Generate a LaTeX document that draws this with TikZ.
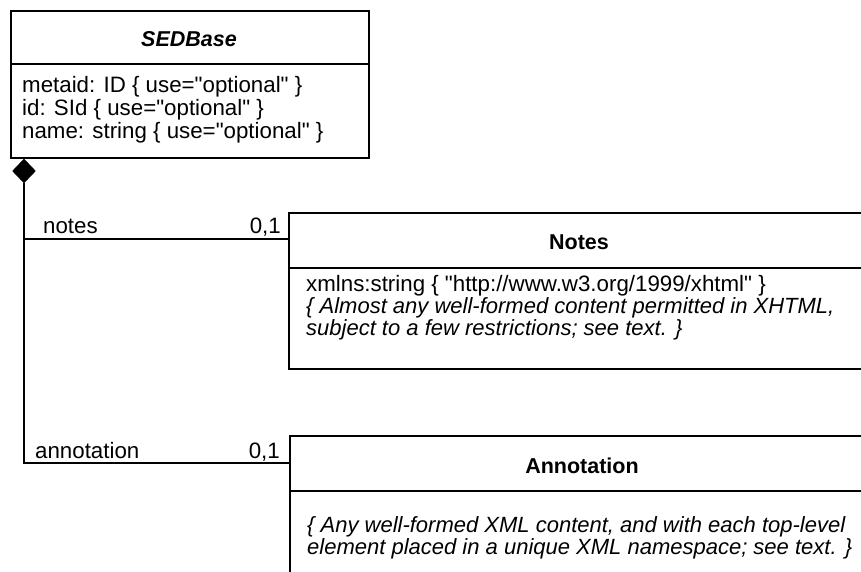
\documentclass[tikz,border=0pt]{standalone}
\usepackage{fontspec}
\setmainfont{Liberation Sans}[Ligatures=TeXOff]
\usetikzlibrary{shapes.geometric,calc}
\begin{document}
\begin{tikzpicture}[x=1pt,y=-1pt,
  umlbox/.style={draw,line width=1.6pt,anchor=north west,inner sep=0,minimum width=#1},
  txt/.style={anchor=base west,inner sep=0,font=\fontsize{22.3}{23.5}\selectfont},
  itxt/.style={anchor=base west,inner sep=0,font=\fontsize{22}{23.5}\selectfont\itshape},
  ttl/.style={anchor=base,inner sep=0,font=\fontsize{21.5}{23.5}\selectfont\bfseries},
  conn/.style={line width=1.6pt}]
\useasboundingbox[fill=white] (0,0) rectangle (861,572);
% SEDBase
\node[umlbox=358pt,minimum height=147pt] (sed) at (10,10) {};
\draw[conn] ($(sed.north west)+(0,54)$) -- ($(sed.north east)+(0,54)$);
\node[ttl,font=\fontsize{21.5}{23.5}\selectfont\bfseries\itshape] (sedt) at (189,47) {SEDBase};
\node[txt] (a1) at (22,93) {metaid: ID \{ use="optional" \}};
\node[txt] (a2) at (22,116) {id: SId \{ use="optional" \}};
\node[txt] (a3) at (22,139) {name: string \{ use="optional" \}};
% diamond
\node[diamond,fill=black,draw=black,inner sep=0,minimum width=23pt,minimum height=24pt] (dia) at (24,171) {};
% Notes
\node[umlbox=600pt,minimum height=156pt] (notes) at (288,212) {};
\draw[conn] ($(notes.north west)+(0,56)$) -- ($(notes.north east)+(0,56)$);
\node[ttl] (notest) at (579,249) {Notes};
\node[txt] (n1) at (306,291) {xmlns:string \{ "http://www.w3.org/1999/xhtml" \}};
\node[itxt] (n2) at (306,313) {\{ Almost any well-formed content permitted in XHTML,};
\node[itxt] (n3) at (306,335) {subject to a few restrictions; see text. \}};
% Annotation
\node[umlbox=600pt,minimum height=160pt] (ann) at (289,435) {};
\draw[conn] ($(ann.north west)+(0,56)$) -- ($(ann.north east)+(0,56)$);
\node[ttl] (annt) at (582,473) {Annotation};
\node[itxt] (t1) at (307,532) {\{ Any well-formed XML content, and with each top-level};
\node[itxt] (t2) at (307,554) {element placed in a unique XML namespace; see text. \}};
% connectors
\coordinate (nj) at ($(notes.north west)+(0,27)$);
\coordinate (aj) at ($(ann.north west)+(0,28)$);
\draw[conn] (dia.south) |- (aj);
\draw[conn] (dia.south |- nj) -- (nj);
\node[txt] (lnotes) at (43,233) {notes};
\node[txt,anchor=base east] (mnotes) at (281,233) {0,1};
\node[txt] (lann) at (35,458) {annotation};
\node[txt,anchor=base east] (mann) at (280,458) {0,1};
\end{tikzpicture}
\end{document}
